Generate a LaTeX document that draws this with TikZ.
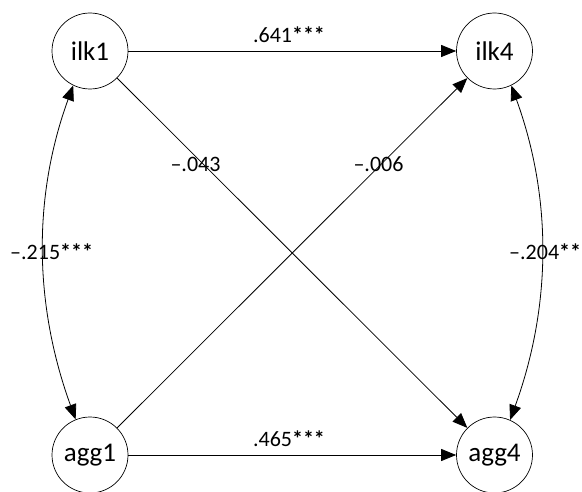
\documentclass[tikz,border=0pt]{standalone}
\usepackage{fontspec}
\setmainfont{Carlito}
\usetikzlibrary{arrows.meta}
\begin{document}
\begin{tikzpicture}[x=1pt,y=1pt,
  var/.style={draw,circle,minimum size=76pt,inner sep=0pt,line width=0.7pt,font=\fontsize{27}{30}\selectfont},
  conn/.style={line width=0.8pt,-{Triangle[length=15pt,width=12pt]}},
  biconn/.style={line width=0.8pt,{Triangle[length=15pt,width=12pt]}-{Triangle[length=15pt,width=12pt]}},
  lab/.style={font=\fontsize{22}{24}\selectfont,inner sep=0pt,anchor=base}]
\useasboundingbox (0,0) rectangle (582,491);
\node[var] (ilk1) at (90,440) {ilk1};
\node[var] (ilk4) at (494.5,440) {ilk4};
\node[var] (agg1) at (90,36) {agg1};
\node[var] (agg4) at (494.5,36) {agg4};
\draw[conn] (ilk1) -- (ilk4);
\draw[conn] (agg1) -- (agg4);
\draw[conn] (ilk1) -- (agg4);
\draw[conn] (agg1) -- (ilk4);
\draw[biconn] (ilk1.244) to[out=250,in=110,looseness=0.92] (agg1.112);
\draw[biconn] (ilk4.296) to[out=290,in=70,looseness=0.92] (agg4.66);
\node[lab] (l1) at (289,448) {.641\textbf{***}};
\node[lab] (l2) at (289,45) {.465\textbf{***}};
\node[lab] (l3) at (195.5,319) {–.043};
\node[lab] (l4) at (378.5,319) {–.006};
\node[lab,anchor=base west] (l5) at (10,231) {–.215\textbf{***}};
\node[lab,anchor=base west] (l6) at (509,231) {–.204\textbf{**}};
\end{tikzpicture}
\end{document}
